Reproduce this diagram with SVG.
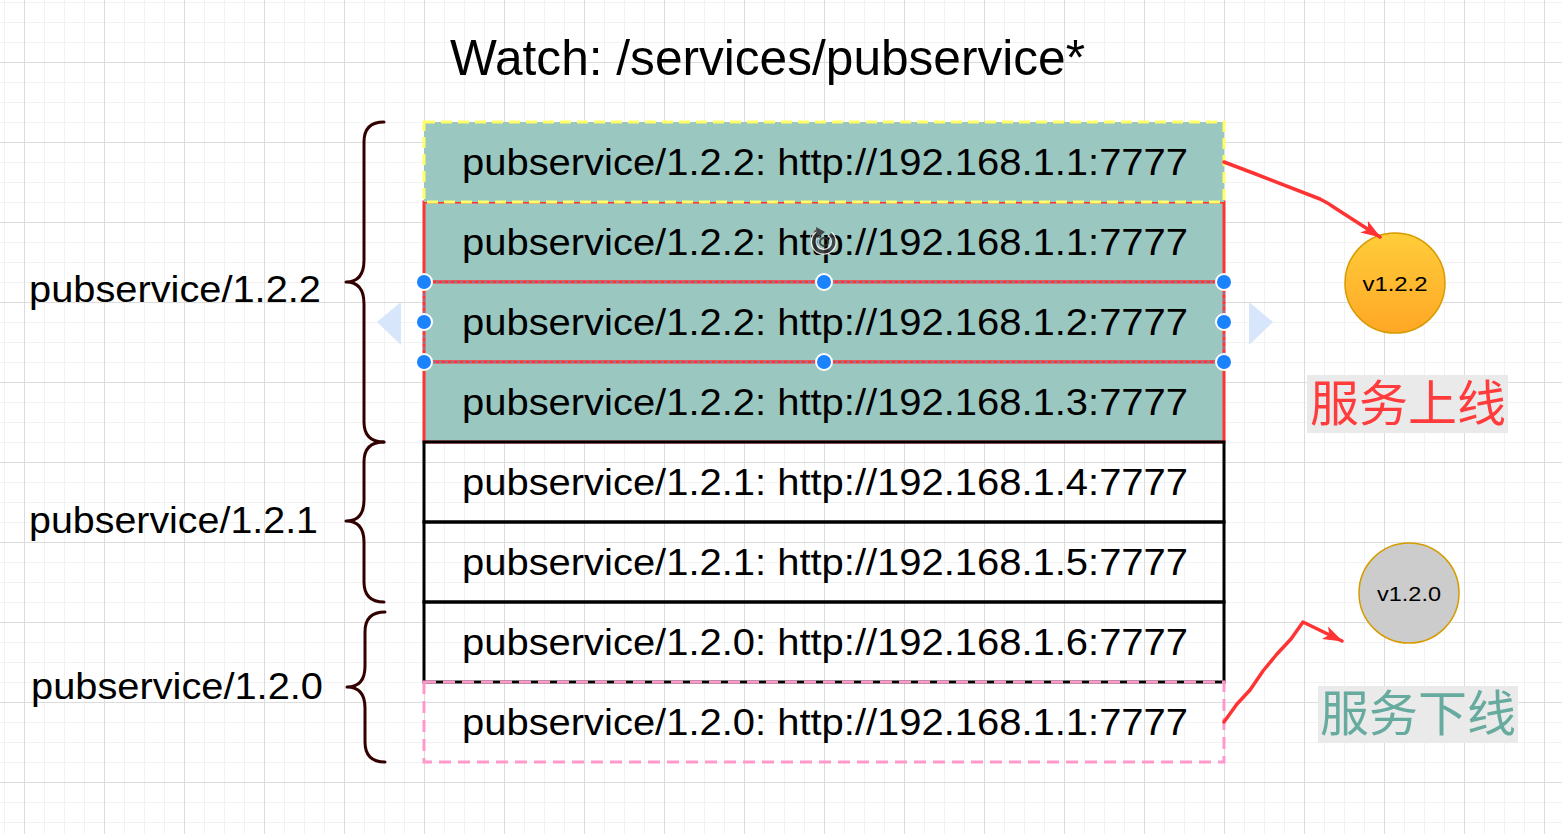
<svg xmlns="http://www.w3.org/2000/svg" width="1562" height="834" viewBox="0 0 1562 834">
<style>
.t{font-family:"Liberation Sans",Arial,Helvetica,sans-serif;fill:#000}
.row{font-size:36px}
.lbl{font-size:36px}
.teal{fill:#9AC7BF;stroke:#ff3333;stroke-width:3}
.plain{fill:none;stroke:#000;stroke-width:3}
.brace{fill:none;stroke:#330000;stroke-width:3;stroke-linecap:round;stroke-linejoin:round}
.conn{fill:none;stroke:#ff3333;stroke-width:3.5;stroke-linejoin:round;stroke-linecap:round}
.handle{fill:#1a82fb;stroke:#fff;stroke-width:2}
.cjk{font-family:"Noto Sans CJK SC","Liberation Sans",sans-serif;font-size:49px}
</style>
<defs>
<pattern id="grid" x="24" y="62" width="80" height="80" patternUnits="userSpaceOnUse">
<rect x="20" y="0" width="1" height="80" fill="#f2f2f2"/>
<rect x="40" y="0" width="1" height="80" fill="#f2f2f2"/>
<rect x="60" y="0" width="1" height="80" fill="#f2f2f2"/>
<rect x="0" y="20" width="80" height="1" fill="#f2f2f2"/>
<rect x="0" y="40" width="80" height="1" fill="#f2f2f2"/>
<rect x="0" y="60" width="80" height="1" fill="#f2f2f2"/>
<rect x="0" y="0" width="1" height="80" fill="#dcdcdc"/>
<rect x="0" y="0" width="80" height="1" fill="#dcdcdc"/>
</pattern>
<linearGradient id="gold" x1="0" y1="0" x2="0" y2="1">
<stop offset="0" stop-color="#ffcd3a"/>
<stop offset="1" stop-color="#ffa726"/>
</linearGradient>
<marker id="arr" viewBox="0 0 20 14" markerWidth="20" markerHeight="14" refX="19" refY="7" orient="auto" markerUnits="userSpaceOnUse">
<path d="M0,0 L20,7 L0,14 L5,7 z" fill="#ff3333"/>
</marker>
</defs>
<rect width="1562" height="834" fill="#ffffff"/>
<rect width="1562" height="834" fill="url(#grid)"/>

<g id="title">
<text class="t" x="450" y="75" font-size="50" textLength="635" lengthAdjust="spacingAndGlyphs">Watch: /services/pubservice*</text>
</g>

<g id="braces">
<g id="brace-122">
<path class="brace" d="M384,122 Q364,122 364,142 L364,260 Q364,282 346,282 Q364,282 364,304 L364,422 Q364,442 384,442"/>
<text class="t lbl" x="29" y="302" textLength="292" lengthAdjust="spacingAndGlyphs">pubservice/1.2.2</text>
</g>
<g id="brace-121">
<path class="brace" d="M384,442 Q364,442 364,462 L364,500 Q364,521 346,521 Q364,521 364,542 L364,582 Q364,602 384,602"/>
<text class="t lbl" x="29" y="533" textLength="289" lengthAdjust="spacingAndGlyphs">pubservice/1.2.1</text>
</g>
<g id="brace-120">
<path class="brace" d="M385,612 Q365,612 365,632 L365,666 Q365,687 347,687 Q365,687 365,708 L365,742 Q365,762 385,762"/>
<text class="t lbl" x="31" y="699" textLength="292" lengthAdjust="spacingAndGlyphs">pubservice/1.2.0</text>
</g>
</g>

<g id="row2">
<rect class="teal" x="424" y="202" width="800" height="80"/>
<text class="t row" x="462" y="255" textLength="726" lengthAdjust="spacingAndGlyphs">pubservice/1.2.2: http://192.168.1.1:7777</text>
</g>
<g id="row1">
<rect x="424" y="122" width="800" height="80" fill="#9AC7BF" stroke="#ffff66" stroke-width="3" stroke-dasharray="11 6"/>
<text class="t row" x="462" y="175" textLength="726" lengthAdjust="spacingAndGlyphs">pubservice/1.2.2: http://192.168.1.1:7777</text>
</g>
<g id="row3">
<rect class="teal" x="424" y="282" width="800" height="80"/>
<text class="t row" x="462" y="335" textLength="726" lengthAdjust="spacingAndGlyphs">pubservice/1.2.2: http://192.168.1.2:7777</text>
</g>
<g id="row4">
<rect class="teal" x="424" y="362" width="800" height="80"/>
<text class="t row" x="462" y="415" textLength="726" lengthAdjust="spacingAndGlyphs">pubservice/1.2.2: http://192.168.1.3:7777</text>
</g>
<g id="row5">
<rect class="plain" x="424" y="442" width="800" height="80" stroke="#1a0000"/>
<text class="t row" x="462" y="495" textLength="726" lengthAdjust="spacingAndGlyphs">pubservice/1.2.1: http://192.168.1.4:7777</text>
</g>
<g id="row6">
<rect class="plain" x="424" y="522" width="800" height="80"/>
<text class="t row" x="462" y="575" textLength="726" lengthAdjust="spacingAndGlyphs">pubservice/1.2.1: http://192.168.1.5:7777</text>
</g>
<g id="row7">
<rect class="plain" x="424" y="602" width="800" height="80"/>
<text class="t row" x="462" y="655" textLength="726" lengthAdjust="spacingAndGlyphs">pubservice/1.2.0: http://192.168.1.6:7777</text>
</g>
<g id="row8">
<rect x="424" y="682" width="800" height="80" fill="none" stroke="#ff99cc" stroke-width="3" stroke-dasharray="12 7"/>
<text class="t row" x="462" y="735" textLength="726" lengthAdjust="spacingAndGlyphs">pubservice/1.2.0: http://192.168.1.1:7777</text>
</g>

<g id="selection">
<rect x="424" y="282" width="800" height="80" fill="none" stroke="#29b6f2" stroke-width="1" stroke-dasharray="3 3"/>
<polygon points="401,302 377,322 401,345" fill="#d7e6fb"/>
<polygon points="1249,302 1273,322 1249,345" fill="#d7e6fb"/>
<circle class="handle" cx="424" cy="282" r="8"/>
<circle class="handle" cx="824" cy="282" r="8"/>
<circle class="handle" cx="1224" cy="282" r="8"/>
<circle class="handle" cx="424" cy="322" r="8"/>
<circle class="handle" cx="1224" cy="322" r="8"/>
<circle class="handle" cx="424" cy="362" r="8"/>
<circle class="handle" cx="824" cy="362" r="8"/>
<circle class="handle" cx="1224" cy="362" r="8"/>
<g opacity="0.85">
<path d="M830,234 A10 10 0 1 1 819,233" fill="none" stroke="#ffffff" stroke-width="6"/>
<path d="M830,234 A10 10 0 1 1 819,233" fill="none" stroke="#333333" stroke-width="3.5"/>
<polygon points="816,227 825,232 817,238" fill="#333333"/>
<circle cx="824" cy="242" r="4" fill="none" stroke="#333333" stroke-width="2"/>
</g>
</g>

<g id="node-v122">
<circle cx="1395" cy="283" r="50" fill="url(#gold)" stroke="#d79b00" stroke-width="1.5"/>
<text class="t" x="1395" y="291" font-size="20" text-anchor="middle" textLength="65" lengthAdjust="spacingAndGlyphs">v1.2.2</text>
</g>
<g id="node-v120">
<circle cx="1409" cy="593" r="50" fill="#cccccc" stroke="#d79b00" stroke-width="1.5"/>
<text class="t" x="1409" y="601" font-size="20" text-anchor="middle" textLength="64" lengthAdjust="spacingAndGlyphs">v1.2.0</text>
</g>

<g id="label-online">
<rect x="1307" y="375" width="201" height="58" fill="#eaeaea"/>
<text class="cjk" x="1408" y="421" text-anchor="middle" fill="#ff3b3b">服务上线</text>
</g>
<g id="label-offline">
<rect x="1318" y="686" width="200" height="57" fill="#eaeaea"/>
<text class="cjk" x="1418" y="731" text-anchor="middle" fill="#67ab9f">服务下线</text>
</g>

<g id="connectors">
<path class="conn" marker-end="url(#arr)" d="M1224,162 L1253,173 L1320,199 Q1328,203 1335,208 L1380,237"/>
<path class="conn" marker-end="url(#arr)" d="M1224,722 L1237,704 L1250,690 L1263,671 L1277,654 L1291,639 L1303,622 L1342,641"/>
</g>
</svg>
